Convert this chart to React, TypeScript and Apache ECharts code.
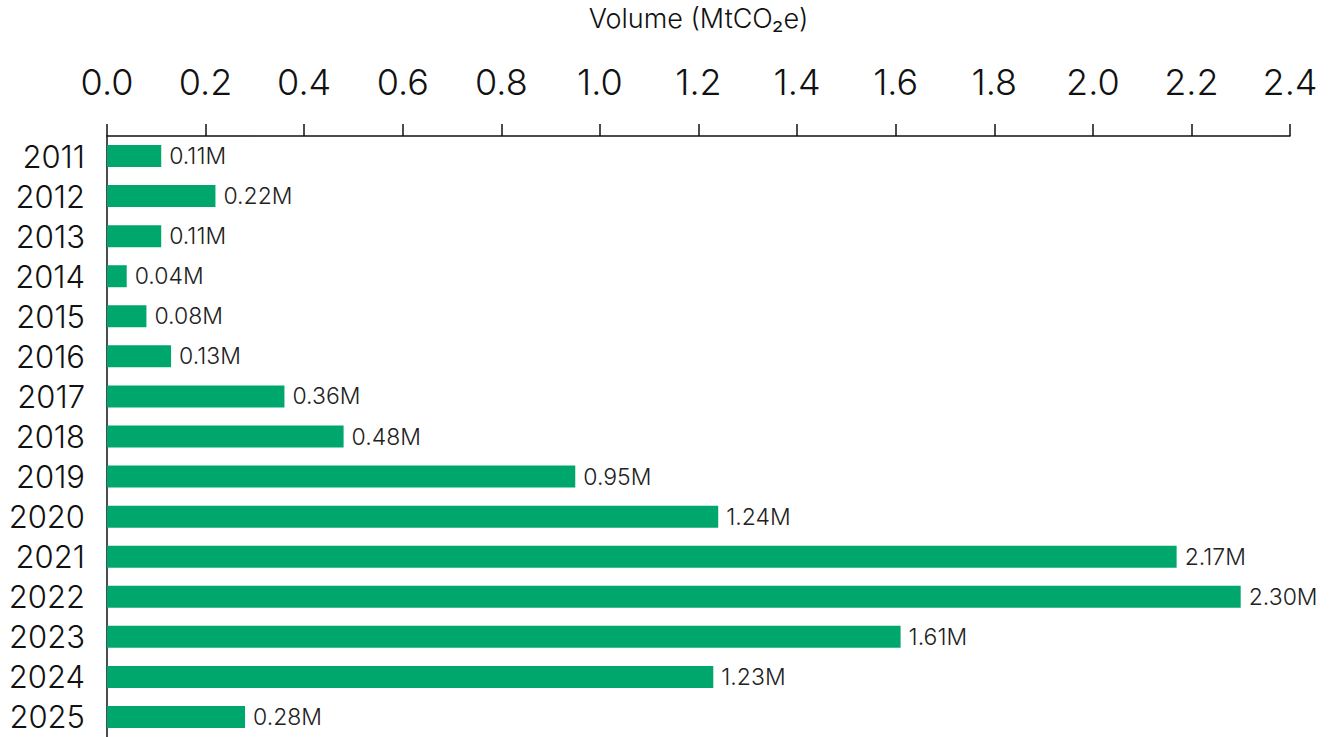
import React, { useEffect, useRef } from "react";
import * as echarts from "echarts";

const years = ["2011", "2012", "2013", "2014", "2015", "2016", "2017", "2018", "2019", "2020", "2021", "2022", "2023", "2024", "2025"];
const volumes = [0.11, 0.22, 0.11, 0.04, 0.08, 0.13, 0.36, 0.48, 0.95, 1.24, 2.17, 2.3, 1.61, 1.23, 0.28];

const FONT = "Inter, 'Noto Sans', sans-serif";

export default function App() {
  const ref = useRef<HTMLDivElement>(null);

  useEffect(() => {
    document.body.style.margin = "0";
    if (!ref.current) return;
    const chart = echarts.init(ref.current, null, { renderer: "svg" });
    chart.setOption({
      animation: false,
      backgroundColor: "#ffffff",
      grid: { left: 107, right: 44, top: 130, height: 610, containLabel: false },
      xAxis: {
        type: "value",
        position: "top",
        min: 0,
        max: 2.4,
        interval: 0.2,
        name: "Volume (MtCO₂e)",
        nameLocation: "middle",
        nameGap: 104,
        nameTextStyle: { fontFamily: FONT, fontSize: 27, fontWeight: 300, color: "#111" },
        axisLine: { show: true, lineStyle: { color: "#111", width: 1.5 } },
        axisTick: { show: true, length: 12, lineStyle: { color: "#111", width: 1.5 } },
        axisLabel: {
          margin: 36,
          fontFamily: FONT,
          fontSize: 36,
          fontWeight: 300,
          color: "#111",
          formatter: (v: number) => v.toFixed(1),
        },
        splitLine: { show: false },
      },
      yAxis: {
        type: "category",
        data: years,
        inverse: true,
        axisLine: { show: true, lineStyle: { color: "#111", width: 1.5 } },
        axisTick: { show: false },
        axisLabel: { interval: 0, margin: 22, fontFamily: FONT, fontSize: 31, fontWeight: 300, color: "#111" },
      },
      series: [
        {
          type: "bar",
          data: volumes,
          barWidth: 22,
          itemStyle: { color: "#00A76D" },
          label: {
            show: true,
            position: "right",
            distance: 8,
            fontFamily: FONT,
            fontSize: 23,
            fontWeight: 300,
            color: "#222",
            formatter: (p: any) => p.value.toFixed(2) + "M",
          },
        },
      ],
    });
    return () => chart.dispose();
  }, []);

  return <div ref={ref} style={{ width: 1334, height: 737 }} />;
}
